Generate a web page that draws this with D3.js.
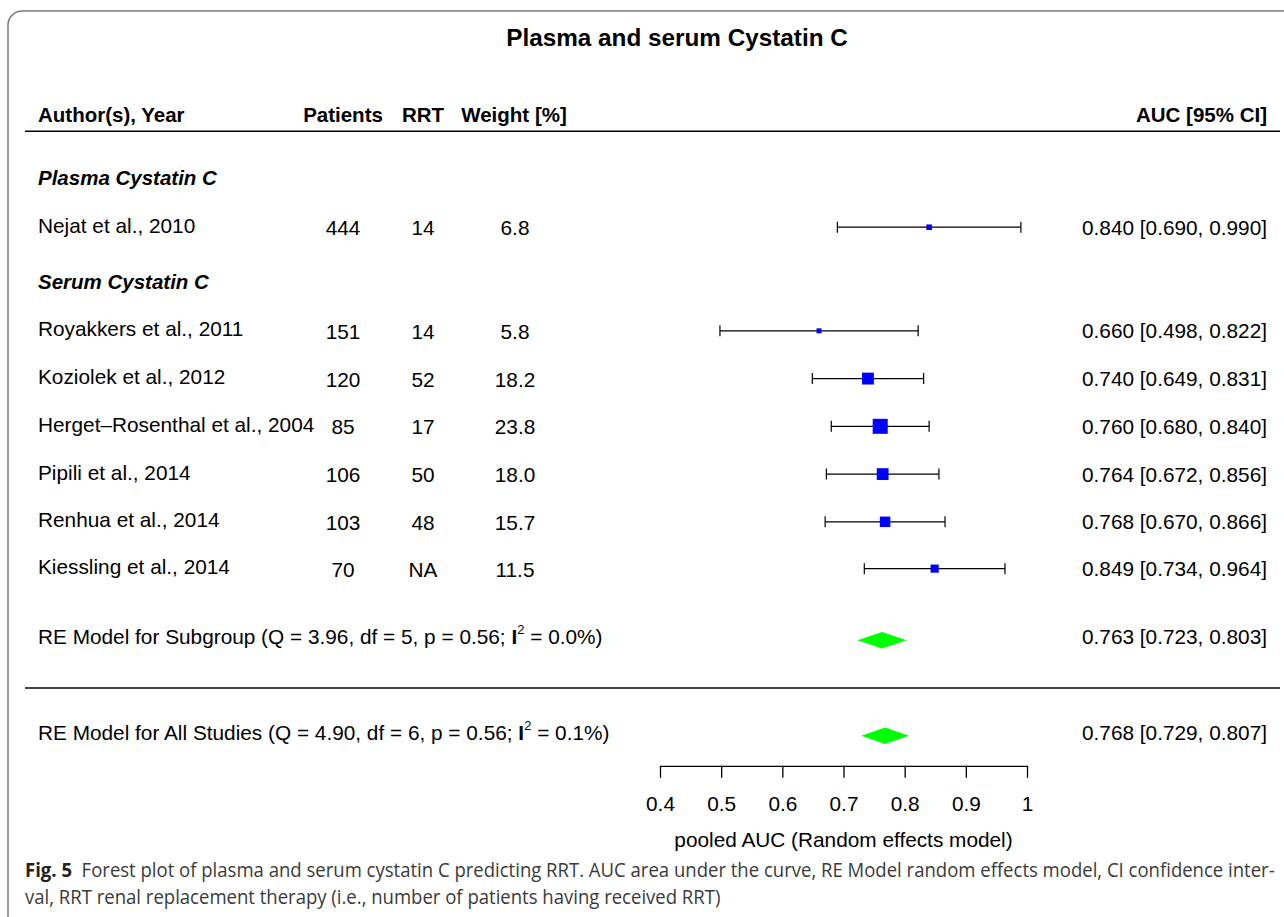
<!DOCTYPE html>
<html>
<head>
<meta charset="utf-8">
<script src="https://cdn.jsdelivr.net/npm/d3@7"></script>
<style>
  body { margin: 0; background: #fff; }
  svg text { font-family: "Liberation Sans", Arial, Helvetica, sans-serif; }
</style>
</head>
<body>
<svg id="chart" width="1284" height="917"></svg>
<script>
// ---- Data -------------------------------------------------------------
const chartTitle = "Plasma and serum Cystatin C";
const columnHeaders = ["Author(s), Year", "Patients", "RRT", "Weight [%]", "AUC [95% CI]"];
const subgroupNames = ["Plasma Cystatin C", "Serum Cystatin C"];

const studyLabels = [
  "Nejat et al., 2010",
  "Royakkers et al., 2011",
  "Koziolek et al., 2012",
  "Herget\u2013Rosenthal et al., 2004",
  "Pipili et al., 2014",
  "Renhua et al., 2014",
  "Kiessling et al., 2014"
];
const studySubgroup = [0, 1, 1, 1, 1, 1, 1];
const patients = [444, 151, 120, 85, 106, 103, 70];
const rrtCounts = ["14", "14", "52", "17", "50", "48", "NA"];
const weights = [6.8, 5.8, 18.2, 23.8, 18.0, 15.7, 11.5];
const aucEst = [0.840, 0.660, 0.740, 0.760, 0.764, 0.768, 0.849];
const aucLow = [0.690, 0.498, 0.649, 0.680, 0.672, 0.670, 0.734];
const aucHigh = [0.990, 0.822, 0.831, 0.840, 0.856, 0.866, 0.964];

const pooledNames = ["RE Model for Subgroup", "RE Model for All Studies"];
const pooledQ = ["3.96", "4.90"];
const pooledDf = [5, 6];
const pooledP = ["0.56", "0.56"];
const pooledI2 = ["0.0", "0.1"];
const pooledEst = [0.763, 0.768];
const pooledLow = [0.723, 0.729];
const pooledHigh = [0.803, 0.807];

const axisTicks = [0.4, 0.5, 0.6, 0.7, 0.8, 0.9, 1];
const axisTitle = "pooled AUC (Random effects model)";

const captionLead = "Fig. 5";
const captionLines = [
  "Forest plot of plasma and serum cystatin C predicting RRT. AUC area under the curve, RE Model random effects model, CI confidence inter-",
  "val, RRT renal replacement therapy (i.e., number of patients having received RRT)"
];

// ---- Layout ------------------------------------------------------------
const svg = d3.select("#chart");
const FONT = 20.8;

// vertical layout in row units below the column header line
const y = d3.scaleLinear().domain([0, 1]).range([115, 162.75]);
const slots = {
  header: 0, headerRule: 0.34,
  subgroupHeading: [1.32, 3.5],
  studies: [2.35, 4.52, 5.52, 6.52, 7.52, 8.52, 9.5],
  pooled: [11.0, 13.0],
  separator: 12.0,
  axis: 13.63
};

const x = d3.scaleLinear().domain([0.4, 1]).range([660, 1027]);
const side = d3.scaleLinear().domain(d3.extent(weights)).range([5, 15]);

const colX = { label: 38, patients: 343, rrt: 423, weight: 515, auc: 1267 };
const fmt3 = d3.format(".3f");
const ciText = (e, l, h) => `${fmt3(e)} [${fmt3(l)}, ${fmt3(h)}]`;

// ---- Frame ---------------------------------------------------------------
svg.append("rect")
  .attr("x", 8).attr("y", 11)
  .attr("width", 1320).attr("height", 925)
  .attr("rx", 14).attr("ry", 14)
  .attr("fill", "none")
  .attr("stroke", "#7a7a7a")
  .attr("stroke-width", 1.5);

// ---- Title -------------------------------------------------------------------
svg.append("text")
  .attr("x", 677).attr("y", 46)
  .attr("text-anchor", "middle")
  .attr("font-size", 24.3).attr("font-weight", "bold")
  .text(chartTitle);

// ---- Column headers ----------------------------------------------------------
const headerG = svg.append("g")
  .attr("font-size", 20.5).attr("font-weight", "bold");
const headerPos = [
  [colX.label, "start"], [colX.patients, "middle"], [colX.rrt, "middle"],
  [514, "middle"], [colX.auc, "end"]
];
headerG.selectAll("text").data(columnHeaders).join("text")
  .attr("x", (d, i) => headerPos[i][0])
  .attr("y", y(slots.header) + 7)
  .attr("text-anchor", (d, i) => headerPos[i][1])
  .text(d => d);

const rule = (yy) => svg.append("line")
  .attr("x1", 25).attr("x2", 1280)
  .attr("y1", yy).attr("y2", yy)
  .attr("stroke", "#000").attr("stroke-width", 1.3);
rule(y(slots.headerRule));
rule(y(slots.separator));

// ---- Subgroup headings -----------------------------------------------------
svg.append("g").selectAll("text").data(subgroupNames).join("text")
  .attr("x", colX.label)
  .attr("y", (d, i) => y(slots.subgroupHeading[i]) + 7)
  .attr("font-size", 20.5)
  .attr("font-weight", "bold").attr("font-style", "italic")
  .text(d => d);

// ---- Study rows ----------------------------------------------------------------
const studies = studyLabels.map((label, i) => ({
  label, group: studySubgroup[i], n: patients[i], rrt: rrtCounts[i],
  w: weights[i], est: aucEst[i], lo: aucLow[i], hi: aucHigh[i],
  yy: y(slots.studies[i])
}));

const rows = svg.append("g").attr("font-size", FONT);
const row = rows.selectAll("g.study").data(studies).join("g").attr("class", "study");

row.append("text").attr("x", colX.label).attr("y", d => d.yy + 5.5).text(d => d.label);
row.append("text").attr("x", colX.patients).attr("y", d => d.yy + 8)
  .attr("text-anchor", "middle").text(d => d.n);
row.append("text").attr("x", colX.rrt).attr("y", d => d.yy + 8)
  .attr("text-anchor", "middle").text(d => d.rrt);
row.append("text").attr("x", colX.weight).attr("y", d => d.yy + 8)
  .attr("text-anchor", "middle").text(d => d3.format(".1f")(d.w));
row.append("text").attr("x", colX.auc).attr("y", d => d.yy + 7.5)
  .attr("text-anchor", "end").text(d => ciText(d.est, d.lo, d.hi));

// confidence interval whiskers with end caps
const capH = 5.5;
row.append("line")
  .attr("x1", d => x(d.lo)).attr("x2", d => x(d.hi))
  .attr("y1", d => d.yy).attr("y2", d => d.yy)
  .attr("stroke", "#000").attr("stroke-width", 1.2);
["lo", "hi"].forEach(k => {
  row.append("line")
    .attr("x1", d => x(d[k])).attr("x2", d => x(d[k]))
    .attr("y1", d => d.yy - capH).attr("y2", d => d.yy + capH)
    .attr("stroke", "#000").attr("stroke-width", 1.2);
});
// weight-scaled point estimates
row.append("rect")
  .attr("x", d => x(d.est) - side(d.w) / 2)
  .attr("y", d => d.yy - side(d.w) / 2)
  .attr("width", d => side(d.w)).attr("height", d => side(d.w))
  .attr("fill", "#0000ff");

// ---- Pooled estimates -------------------------------------------------------
const pooled = pooledNames.map((name, i) => ({
  name, q: pooledQ[i], df: pooledDf[i], p: pooledP[i], i2: pooledI2[i],
  est: pooledEst[i], lo: pooledLow[i], hi: pooledHigh[i],
  yy: y(slots.pooled[i])
}));
const prow = svg.append("g").attr("font-size", FONT)
  .selectAll("g.pooled").data(pooled).join("g").attr("class", "pooled");

const plabel = prow.append("text").attr("x", colX.label).attr("y", d => d.yy + 4);
plabel.append("tspan").text(d => `${d.name} (Q = ${d.q}, df = ${d.df}, p = ${d.p}; `);
plabel.append("tspan").attr("font-weight", "bold").text("I");
plabel.append("tspan").attr("font-size", 13).attr("dy", -10).text("2");
plabel.append("tspan").attr("dy", 10).text(d => ` = ${d.i2}%)`);

prow.append("text").attr("x", colX.auc).attr("y", d => d.yy + 4)
  .attr("text-anchor", "end").text(d => ciText(d.est, d.lo, d.hi));

const dH = 8.3;
prow.append("polygon")
  .attr("points", d => [
    [x(d.lo), d.yy], [x(d.est), d.yy - dH], [x(d.hi), d.yy], [x(d.est), d.yy + dH]
  ].map(p => p.join(",")).join(" "))
  .attr("fill", "#00ff00");

// ---- Axis ----------------------------------------------------------------------
const axisG = svg.append("g")
  .attr("transform", `translate(0,${y(slots.axis)})`)
  .call(d3.axisBottom(x)
    .tickValues(axisTicks)
    .tickSize(12).tickSizeOuter(0).tickPadding(18)
    .tickFormat(d => d === 1 ? "1" : d3.format(".1f")(d)));
axisG.select(".domain").attr("stroke", "#000").attr("stroke-width", 1.3);
axisG.selectAll(".tick line").attr("stroke", "#000").attr("stroke-width", 1.3);
axisG.selectAll(".tick text")
  .attr("font-size", FONT)
  .attr("font-family", "'Liberation Sans', Arial, sans-serif")
  .attr("fill", "#000");

svg.append("text")
  .attr("x", x(0.7)).attr("y", y(slots.axis) + 81)
  .attr("text-anchor", "middle").attr("font-size", FONT)
  .text(axisTitle);

// ---- Caption --------------------------------------------------------------------
const capG = svg.append("g").attr("transform", "translate(25,0)");
const cap1 = capG.append("text").attr("x", 0).attr("y", 877)
  .attr("font-size", 19.5).attr("fill", "#3a3a3a")
  .style("font-family", "'Open Sans', 'Noto Sans', sans-serif");
cap1.append("tspan").attr("font-weight", "bold").attr("fill", "#222").text(captionLead + "\u00a0\u00a0");
cap1.append("tspan").text(captionLines[0]);
const cap2 = capG.append("text").attr("x", 0).attr("y", 904)
  .attr("font-size", 19.5).attr("fill", "#3a3a3a")
  .style("font-family", "'Open Sans', 'Noto Sans', sans-serif")
  .text(captionLines[1]);
// fit the caption block to the column width with a horizontal condense
const w1 = cap1.node().getComputedTextLength();
const sx = 1250 / w1;
cap1.attr("transform", `scale(${sx},1)`);
cap2.attr("transform", `scale(${sx},1)`);
</script>
</body>
</html>
